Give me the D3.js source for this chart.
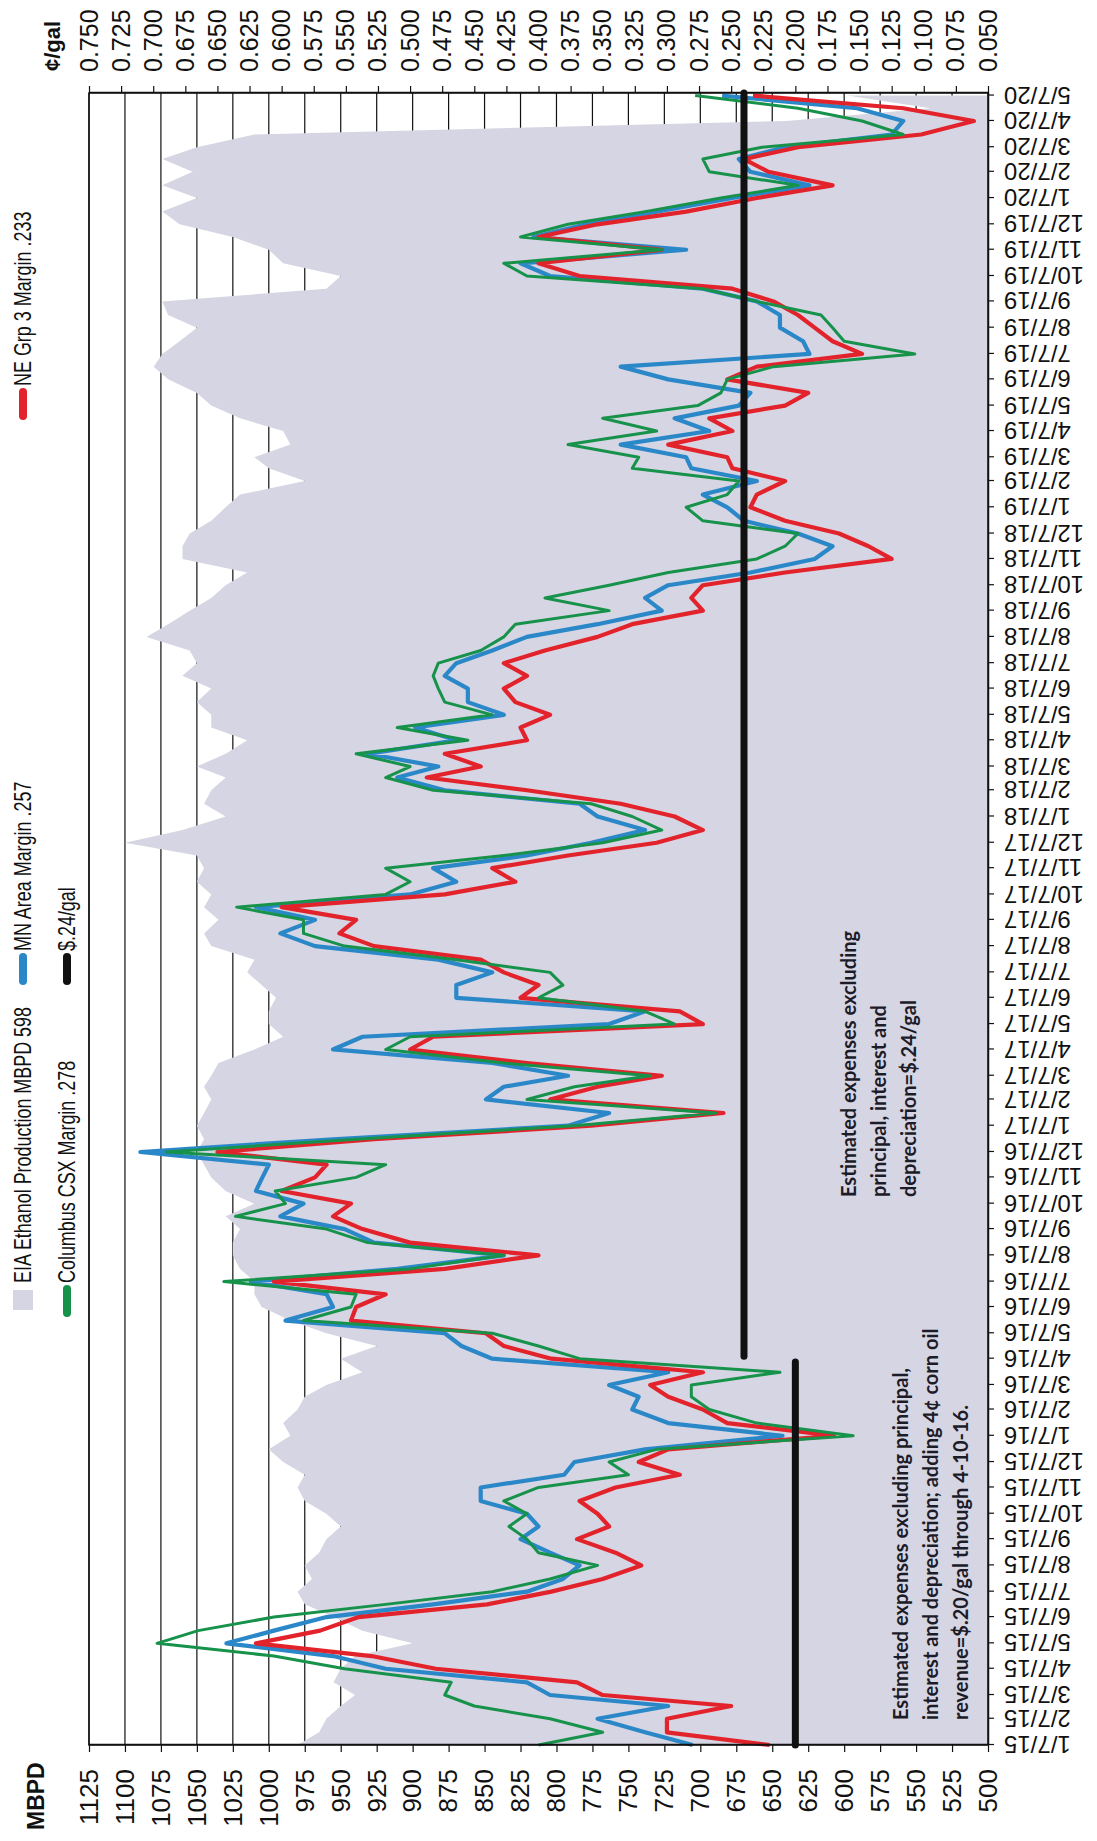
<!DOCTYPE html>
<html>
<head>
<meta charset="utf-8">
<script src="https://cdn.jsdelivr.net/npm/d3@7"></script>
<style>
  body { margin: 0; background: #fff; }
  svg { display: block; }
</style>
</head>
<body>
<svg id="chart" width="1097" height="1841"></svg>
<script>
// Half-month sample dates: the 7th and the 22nd of every month, Jan 2015 to May 2020
const sampleDates = d3.range(129).map(i => new Date(2015, Math.floor(i / 2), i % 2 ? 22 : 7));

// EIA weekly ethanol production, thousand barrels per day
const production = [
  980, 965, 960, 950, 940, 955, 950, 940, 900, 935, 955, 975, 980, 970, 975, 965, 960, 950, 960, 975,
  980, 975, 990, 1000, 985, 990, 980, 975, 960, 935, 950, 925, 960, 985, 1005, 1010, 1010, 1020, 1025, 1025,
  1020, 1030, 1010, 1030, 1040, 1045, 1050, 1045, 1050, 1045, 1040, 1045, 1040, 1035, 1010, 990, 1000, 1000, 995, 1005,
  1015, 1010, 1040, 1045, 1035, 1045, 1040, 1050, 1045, 1050, 1100, 1060, 1030, 1045, 1040, 1030, 1050, 1030, 1015, 1040,
  1040, 1050, 1040, 1060, 1050, 1055, 1085, 1070, 1055, 1040, 1030, 1015, 1060, 1060, 1055, 1040, 1030, 1020, 975, 1000,
  1010, 985, 990, 1020, 1040, 1050, 1070, 1080, 1074, 1062, 1050, 1070, 1074, 960, 950, 990, 1000, 1025, 1062, 1074,
  1050, 1074, 1053, 1074, 1050, 1010, 640, 540, 598
];

// MN Area margin, $/gal
const mnMargin = [
  0.28, 0.317, 0.354, 0.299, 0.391, 0.409, 0.519, 0.56, 0.643, 0.606, 0.565, 0.482, 0.409, 0.381, 0.368, 0.391, 0.414, 0.40, 0.409, 0.445,
  0.445, 0.38, 0.372, 0.317, 0.21, 0.299, 0.327, 0.322, 0.345, 0.299, 0.436, 0.46, 0.473, 0.597, 0.56, 0.565, 0.624, 0.51, 0.427, 0.528,
  0.551, 0.601, 0.583, 0.62, 0.615, 0.61, 0.71, 0.56, 0.377, 0.345, 0.441, 0.427, 0.377, 0.436, 0.56, 0.537, 0.345, 0.317, 0.464, 0.464,
  0.436, 0.478, 0.574, 0.601, 0.574, 0.62, 0.50, 0.464, 0.482, 0.409, 0.359, 0.317, 0.354, 0.368, 0.473, 0.51, 0.478, 0.533, 0.464, 0.496,
  0.427, 0.455, 0.455, 0.473, 0.464, 0.436, 0.409, 0.354, 0.304, 0.317, 0.299, 0.235, 0.185, 0.171, 0.198, 0.24, 0.253, 0.272, 0.23, 0.281,
  0.285, 0.336, 0.267, 0.294, 0.244, 0.235, 0.299, 0.336, 0.189, 0.194, 0.212, 0.212, 0.23, 0.272, 0.391, 0.414, 0.285, 0.404, 0.363, 0.308,
  0.249, 0.189, 0.235, 0.244, 0.208, 0.125, 0.116, 0.152, 0.257
];

// NE Group 3 margin, $/gal
const neMargin = [
  0.22, 0.30, 0.30, 0.25, 0.35, 0.37, 0.48, 0.53, 0.62, 0.57, 0.54, 0.44, 0.39, 0.35, 0.32, 0.34, 0.37, 0.345, 0.354, 0.368,
  0.34, 0.29, 0.322, 0.299, 0.17, 0.253, 0.272, 0.299, 0.313, 0.272, 0.39, 0.427, 0.441, 0.546, 0.542, 0.519, 0.606, 0.473, 0.40, 0.50,
  0.537, 0.56, 0.546, 0.60, 0.574, 0.565, 0.65, 0.528, 0.359, 0.256, 0.391, 0.354, 0.304, 0.409, 0.50, 0.482, 0.272, 0.29, 0.414, 0.40,
  0.427, 0.445, 0.528, 0.555, 0.542, 0.60, 0.473, 0.418, 0.436, 0.377, 0.308, 0.272, 0.294, 0.336, 0.409, 0.487, 0.445, 0.473, 0.409, 0.414,
  0.391, 0.418, 0.427, 0.409, 0.427, 0.395, 0.354, 0.327, 0.272, 0.281, 0.272, 0.208, 0.125, 0.143, 0.166, 0.208, 0.235, 0.23, 0.208, 0.249,
  0.253, 0.299, 0.249, 0.267, 0.208, 0.19, 0.253, 0.23, 0.148, 0.171, 0.185, 0.198, 0.217, 0.249, 0.368, 0.40, 0.304, 0.40, 0.354, 0.285,
  0.23, 0.171, 0.221, 0.24, 0.198, 0.102, 0.061, 0.116, 0.233
];

// Columbus CSX margin, $/gal
const columbusMargin = [
  0.40, 0.35, 0.391, 0.45, 0.473, 0.468, 0.551, 0.606, 0.697, 0.665, 0.606, 0.519, 0.436, 0.391, 0.354, 0.40, 0.409, 0.423, 0.409, 0.427,
  0.40, 0.33, 0.345, 0.308, 0.155, 0.23, 0.267, 0.281, 0.281, 0.212, 0.368, 0.40, 0.436, 0.583, 0.546, 0.542, 0.645, 0.50, 0.427, 0.533,
  0.565, 0.636, 0.597, 0.605, 0.542, 0.519, 0.69, 0.542, 0.372, 0.262, 0.409, 0.372, 0.313, 0.427, 0.519, 0.50, 0.294, 0.317, 0.40, 0.381,
  0.391, 0.464, 0.551, 0.583, 0.583, 0.635, 0.519, 0.50, 0.519, 0.427, 0.35, 0.304, 0.327, 0.359, 0.482, 0.519, 0.50, 0.542, 0.455, 0.51,
  0.436, 0.473, 0.478, 0.482, 0.478, 0.445, 0.427, 0.418, 0.345, 0.395, 0.345, 0.299, 0.23, 0.208, 0.198, 0.272, 0.285, 0.253, 0.244, 0.327,
  0.322, 0.377, 0.308, 0.35, 0.276, 0.258, 0.253, 0.217, 0.107, 0.162, 0.171, 0.18, 0.23, 0.272, 0.409, 0.427, 0.304, 0.414, 0.377, 0.317,
  0.258, 0.198, 0.267, 0.272, 0.226, 0.116, 0.148, 0.198, 0.278
];

// Estimated break-even expense levels, $/gal
const expenseFrom = ["2015-01-07", "2016-04-10"];
const expenseTo = ["2016-04-03", "2020-05-10"];
const expenseValue = [0.20, 0.24];

// Axis tick values
const mbpdTicks = [1125, 1100, 1075, 1050, 1025, 1000, 975, 950, 925, 900, 875, 850, 825, 800, 775, 750, 725, 700, 675, 650, 625, 600, 575, 550, 525, 500];
const centTicks = [0.750, 0.725, 0.700, 0.675, 0.650, 0.625, 0.600, 0.575, 0.550, 0.525, 0.500, 0.475, 0.450, 0.425, 0.400, 0.375, 0.350, 0.325, 0.300, 0.275, 0.250, 0.225, 0.200, 0.175, 0.150, 0.125, 0.100, 0.075, 0.050];
const monthTicks = d3.timeMonth.range(new Date(2015, 0, 1), new Date(2020, 5, 1)).map(d => new Date(d.getFullYear(), d.getMonth(), 7));

const legendItems = [
  { label: "EIA Ethanol Production MBPD 598", kind: "area", color: "#d6d5e3", col: 0, row: 0 },
  { label: "MN Area Margin .257", kind: "line", color: "#2b88c8", col: 1, row: 0 },
  { label: "NE Grp 3 Margin .233", kind: "line", color: "#e3232b", col: 2, row: 0 },
  { label: "Columbus CSX Margin .278", kind: "line", color: "#17924a", col: 0, row: 1 },
  { label: "$.24/gal", kind: "line", color: "#111111", col: 1, row: 1 }
];

const notes = [
  { lines: ["Estimated expenses excluding", "principal, interest and", "depreciation=$.24/gal"], x: 644, y: 849 },
  { lines: ["Estimated expenses excluding principal,", "interest and depreciation; adding 4¢ corn oil", "revenue=$.20/gal through 4-10-16."], x: 121, y: 901 }
];

// ---- layout: the chart is built in a landscape frame and turned a quarter-turn counter-clockwise
const W = 1841, H = 1097;
const plot = { left: 96, right: 1748, top: 89, bottom: 988 };

const svg = d3.select("#chart");
const g = svg.append("g").attr("transform", `translate(0,${W}) rotate(-90)`);

const x = d3.scaleTime()
  .domain([new Date(2015, 0, 7), new Date(2020, 4, 10)])
  .range([plot.left, plot.right]);
const yL = d3.scaleLinear().domain([500, 1125]).range([plot.bottom, plot.top]);
const yR = d3.scaleLinear().domain([0.05, 0.75]).range([plot.bottom, plot.top]);

const axisFont = "'Liberation Sans', Arial, sans-serif";

// gridlines
g.append("g").selectAll("line")
  .data(mbpdTicks)
  .join("line")
  .attr("x1", plot.left).attr("x2", plot.right)
  .attr("y1", d => yL(d)).attr("y2", d => yL(d))
  .attr("stroke", "#111").attr("stroke-width", 1.2);

// production area
const prodData = sampleDates.map((d, i) => ({ date: d, v: production[i] }));
g.append("path")
  .datum(prodData)
  .attr("fill", "#d6d5e3")
  .attr("d", d3.area().x(d => x(d.date)).y0(yL(500)).y1(d => yL(d.v)));

// margin lines
const marginSeries = [
  { values: mnMargin, color: "#2b88c8", width: 4.2 },
  { values: neMargin, color: "#e3232b", width: 4.2 },
  { values: columbusMargin, color: "#17924a", width: 3 }
];
const lineGen = d3.line().x(d => x(d.date)).y(d => yR(d.v));
marginSeries.forEach(s => {
  g.append("path")
    .datum(sampleDates.map((d, i) => ({ date: d, v: s.values[i] })))
    .attr("fill", "none")
    .attr("stroke", s.color)
    .attr("stroke-width", s.width)
    .attr("stroke-linejoin", "round")
    .attr("d", lineGen);
});

// expense levels
expenseValue.forEach((v, i) => {
  g.append("line")
    .attr("x1", x(new Date(expenseFrom[i] + "T00:00")))
    .attr("x2", x(new Date(expenseTo[i] + "T00:00")))
    .attr("y1", yR(v)).attr("y2", yR(v))
    .attr("stroke", "#111").attr("stroke-width", 7)
    .attr("stroke-linecap", "round");
});

// plot frame
g.append("rect")
  .attr("x", plot.left).attr("y", plot.top)
  .attr("width", plot.right - plot.left).attr("height", plot.bottom - plot.top)
  .attr("fill", "none").attr("stroke", "#111").attr("stroke-width", 1.5);

// left axis: MBPD
const axL = g.append("g").attr("transform", `translate(${plot.left},0)`)
  .call(d3.axisLeft(yL).tickValues(mbpdTicks).tickFormat(d3.format("d")).tickSize(7).tickSizeOuter(0).tickPadding(17));
axL.selectAll("text").attr("font-family", axisFont).attr("font-size", 26).attr("fill", "#111");

// right axis: cents per gallon
const axR = g.append("g").attr("transform", `translate(${plot.right},0)`)
  .call(d3.axisRight(yR).tickValues(centTicks).tickFormat(d3.format(".3f")).tickSize(7).tickSizeOuter(0).tickPadding(14));
axR.selectAll("text").attr("font-family", axisFont).attr("font-size", 25).attr("fill", "#111");

// bottom axis: monthly dates, rotated labels
const fmtDate = d => `${d.getMonth() + 1}/${d.getDate()}/${String(d.getFullYear()).slice(2)}`;
const axB = g.append("g").attr("transform", `translate(0,${plot.bottom})`)
  .call(d3.axisBottom(x).tickValues(monthTicks).tickFormat(fmtDate).tickSize(6).tickSizeOuter(0));
axB.selectAll("text")
  .attr("font-family", axisFont).attr("font-size", 24).attr("fill", "#111")
  .attr("transform", "rotate(-90)")
  .attr("text-anchor", "end")
  .attr("x", -16).attr("y", 0).attr("dy", "0.35em");

[axL, axR, axB].forEach(a => {
  a.selectAll("line").attr("stroke", "#111").attr("stroke-width", 1.2);
  a.select(".domain").attr("stroke", "#111").attr("stroke-width", 1.5);
});

// axis titles
g.append("text").attr("x", 11).attr("y", 44)
  .attr("font-family", axisFont).attr("font-weight", "bold").attr("font-size", 23).attr("fill", "#111")
  .text("MBPD");
g.append("text").attr("x", 1770).attr("y", 60)
  .attr("font-family", axisFont).attr("font-weight", "bold").attr("font-size", 22).attr("fill", "#111")
  .text("¢/gal");

// legend: narrow lettering, three columns in two rows
const legCols = [524, 856, 1421];
const legRows = [23, 67];
legendItems.forEach(it => {
  const lx = legCols[it.col], ly = legRows[it.row];
  const lg = g.append("g");
  if (it.kind === "area") {
    lg.append("rect").attr("x", lx + 7).attr("y", ly - 10).attr("width", 20).attr("height", 20).attr("fill", it.color);
  } else {
    lg.append("line").attr("x1", lx + 4).attr("x2", lx + 28).attr("y1", ly).attr("y2", ly)
      .attr("stroke", it.color).attr("stroke-width", 8).attr("stroke-linecap", "round");
  }
  lg.append("text")
    .attr("transform", `translate(${lx + 34},${ly}) scale(0.78,1)`)
    .attr("dy", "0.35em")
    .attr("font-family", axisFont).attr("font-size", 23).attr("fill", "#111")
    .text(it.label);
});

// annotations
notes.forEach(n => {
  const t = g.append("text")
    .attr("font-family", "Lato, 'Open Sans', sans-serif").attr("font-weight", "bold")
    .attr("font-size", 20).attr("fill", "#1c1c28");
  n.lines.forEach((ln, i) => {
    t.append("tspan").attr("x", n.x).attr("y", n.y + i * 30).attr("dy", "0.35em").text(ln);
  });
});
</script>
</body>
</html>
